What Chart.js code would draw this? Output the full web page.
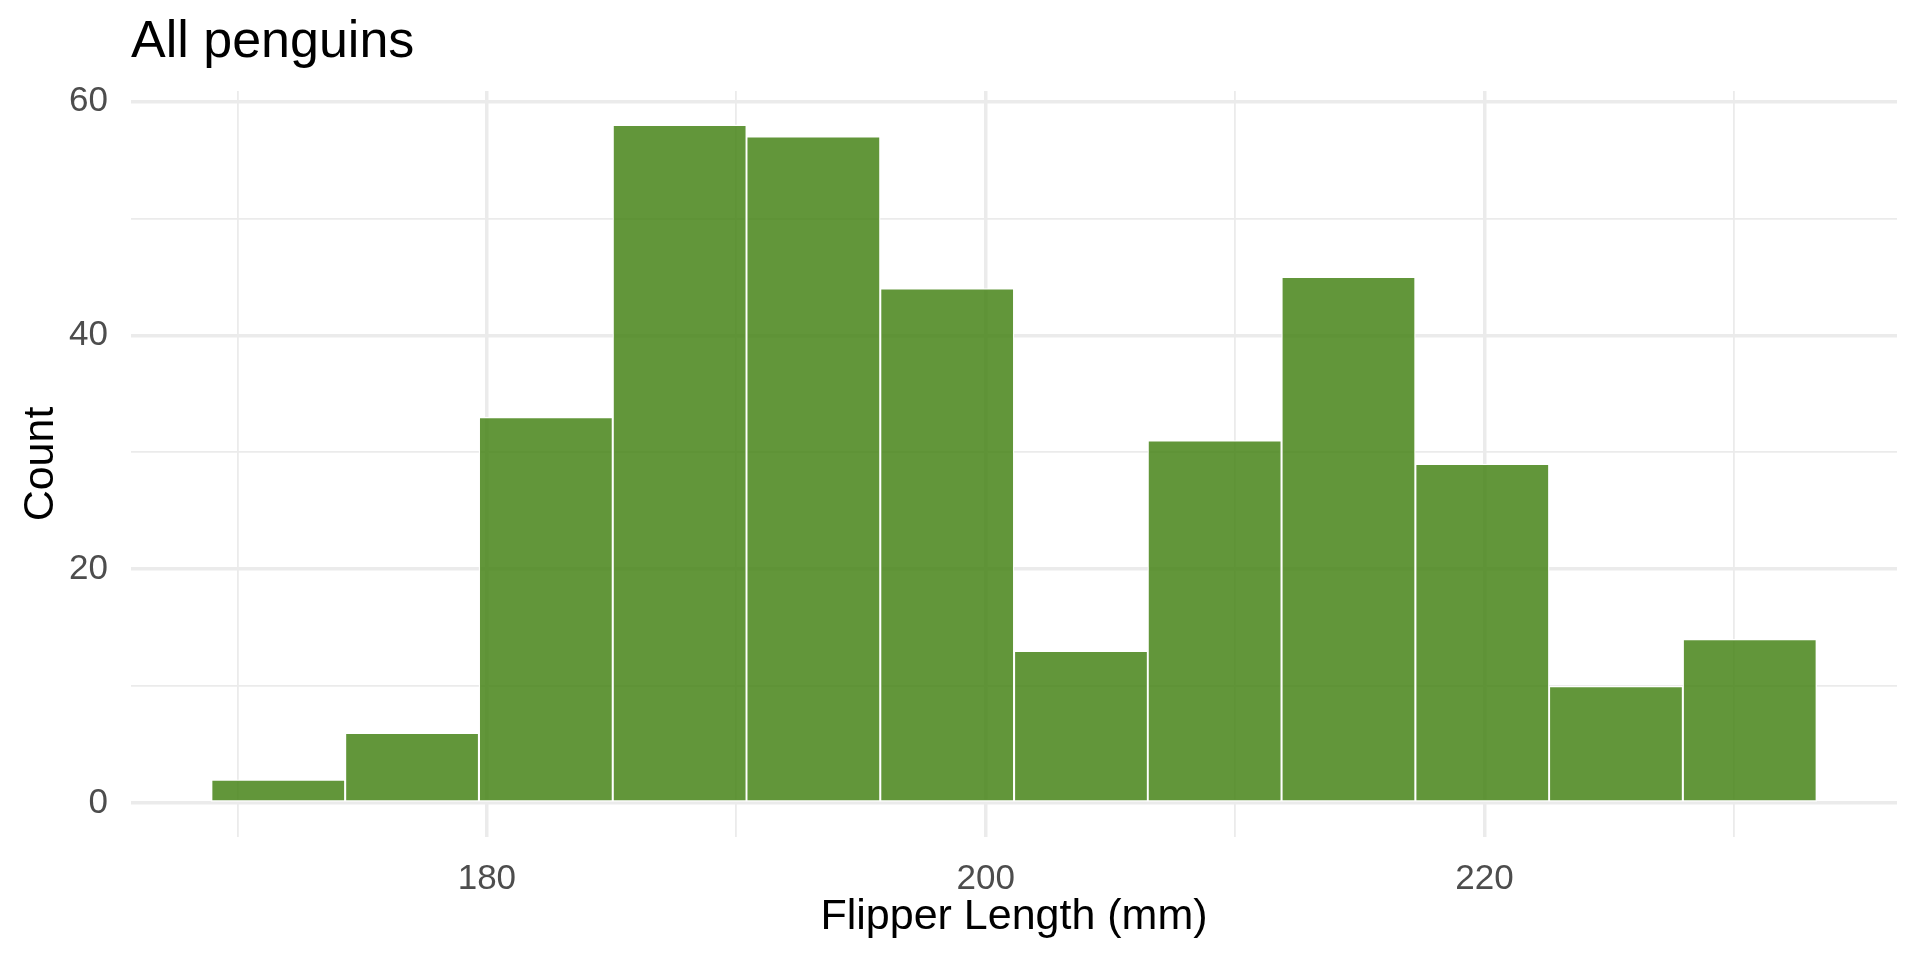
<!DOCTYPE html>
<html>
<head>
<meta charset="utf-8">
<title>All penguins</title>
<script src="https://cdn.jsdelivr.net/npm/chart.js@4.4.0/dist/chart.umd.min.js"></script>
<style>
  html, body { margin: 0; padding: 0; background: #fff; }
  #wrap { width: 1920px; height: 960px; position: relative; }
</style>
</head>
<body>
<div id="wrap"><canvas id="hist" width="1920" height="960"></canvas></div>
<script>
// ==== DATA ====
const binEdges = [168.95, 174.32, 179.68, 185.05, 190.41, 195.77, 201.14, 206.50, 211.86, 217.23, 222.59, 227.95, 233.32];
const counts   = [2, 6, 33, 58, 57, 44, 13, 31, 45, 29, 10, 14];
const xTicks   = [170, 180, 190, 200, 210, 220, 230];
const xLabels  = [180, 200, 220];
const yTicks   = [0, 10, 20, 30, 40, 50, 60];
const yLabels  = [0, 20, 40, 60];

const TITLE = 'All penguins';
const X_TITLE = 'Flipper Length (mm)';
const Y_TITLE = 'Count';

// Utilities
const FONT = '"Liberation Sans", Arial, Helvetica, sans-serif';
const GRID = '#ebebeb';
const mid = (i) => (binEdges[i] + binEdges[i + 1]) / 2;
const pad5 = (binEdges[binEdges.length - 1] - binEdges[0]) * 0.05;
const yMax = Math.max(...counts);

// title + axis titles, drawn on the canvas after the chart
const titles = {
  id: 'titles',
  afterDraw(chart) {
    const { ctx, chartArea: a } = chart;
    ctx.save();
    ctx.fillStyle = '#000';
    ctx.textBaseline = 'alphabetic';

    ctx.font = '52px ' + FONT;
    ctx.textAlign = 'left';
    ctx.fillText(TITLE, a.left, 57);

    ctx.font = '43px ' + FONT;
    ctx.textAlign = 'center';
    ctx.fillText(X_TITLE, (a.left + a.right) / 2, 929);

    ctx.translate(53, (a.top + a.bottom) / 2);
    ctx.rotate(-Math.PI / 2);
    ctx.fillText(Y_TITLE, 0, 0);
    ctx.restore();
  }
};

new Chart(document.getElementById('hist'), {
  type: 'bar',
  data: {
    datasets: [{
      data: counts.map((c, i) => ({ x: mid(i), y: c })),
      backgroundColor: 'rgba(70,132,23,0.85)',
      borderColor: '#ffffff',
      borderWidth: 1.3,
      borderSkipped: false,
      barPercentage: 1,
      categoryPercentage: 1
    }]
  },
  options: {
    responsive: false,
    animation: false,
    layout: { padding: { top: 91, right: 23, bottom: 0, left: 0 } },
    plugins: { legend: { display: false }, tooltip: { enabled: false }, title: { display: false } },
    scales: {
      x: {
        type: 'linear',
        offset: false,
        min: binEdges[0] - pad5,
        max: binEdges[binEdges.length - 1] + pad5,
        afterBuildTicks: (s) => { s.ticks = xTicks.map(v => ({ value: v })); },
        afterFit: (s) => { s.height = 123; },
        border: { display: false },
        grid: {
          offset: false,
          drawTicks: false,
          color: GRID,
          lineWidth: (c) => xLabels.includes(c.tick && c.tick.value) ? 3.5 : 1.8
        },
        ticks: {
          autoSkip: false,
          maxRotation: 0,
          padding: 21,
          color: '#4d4d4d',
          font: { family: FONT, size: 35 },
          callback: (v) => xLabels.includes(v) ? String(v) : ''
        }
      },
      y: {
        min: -yMax * 0.05,
        max: yMax * 1.05,
        afterBuildTicks: (s) => { s.ticks = yTicks.map(v => ({ value: v })); },
        afterFit: (s) => { s.width = 131; },
        border: { display: false },
        grid: {
          drawTicks: false,
          color: GRID,
          lineWidth: (c) => yLabels.includes(c.tick && c.tick.value) ? 3.5 : 1.8
        },
        ticks: {
          autoSkip: false,
          padding: 23,
          color: '#4d4d4d',
          font: { family: FONT, size: 35 },
          callback: (v) => yLabels.includes(v) ? String(v) : ''
        }
      }
    }
  },
  plugins: [titles]
});
</script>
</body>
</html>
